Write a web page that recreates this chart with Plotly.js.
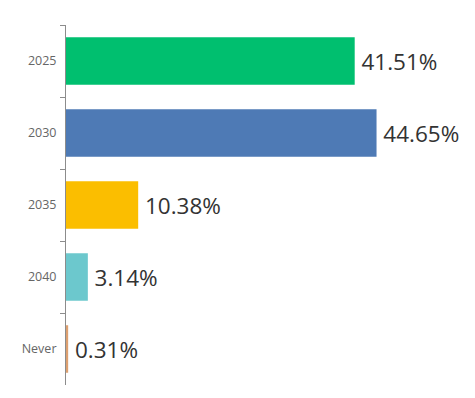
<!DOCTYPE html>
<html>
<head>
<meta charset="utf-8">
<script src="https://cdn.plot.ly/plotly-3.0.1.min.js"></script>
<style>html,body{margin:0;padding:0;background:#fff;}#chart{width:475px;height:398px;}</style>
</head>
<body>
<div id="chart"></div>
<script>
const categories = ["2025", "2030", "2035", "2040", "Never"];
const values = [41.51, 44.65, 10.38, 3.14, 0.31];
const labels = ["41.51%", "44.65%", "10.38%", "3.14%", "0.31%"];
const colors = ["#00BF6F", "#4E7AB5", "#FBBE00", "#6CC8CD", "#DDA070"];

const trace = {
  type: "bar",
  orientation: "h",
  x: values,
  y: categories,
  text: labels,
  texttemplate: "\u2009%{text}",
  textposition: "outside",
  cliponaxis: false,
  textfont: {family: "Open Sans, Liberation Sans, sans-serif", size: 22.5, color: "#333333"},
  marker: {color: colors},
  width: 0.66,
  hoverinfo: "none"
};

const layout = {
  width: 475,
  height: 398,
  margin: {l: 66, r: 7, t: 25, b: 13},
  paper_bgcolor: "#ffffff",
  plot_bgcolor: "#ffffff",
  showlegend: false,
  xaxis: {
    range: [0, 57.8],
    visible: false,
    showgrid: false,
    zeroline: false
  },
  yaxis: {
    type: "category",
    autorange: "reversed",
    showline: true,
    linecolor: "#8c8c8c",
    linewidth: 1,
    ticks: "outside",
    tickson: "boundaries",
    ticklen: 5,
    tickcolor: "#8c8c8c",
    ticklabelstandoff: 6,
    tickfont: {family: "Open Sans, Liberation Sans, sans-serif", size: 12.5, color: "#666666"},
    showgrid: false,
    zeroline: false
  }
};

Plotly.newPlot("chart", [trace], layout, {displayModeBar: false, staticPlot: true});
</script>
</body>
</html>
